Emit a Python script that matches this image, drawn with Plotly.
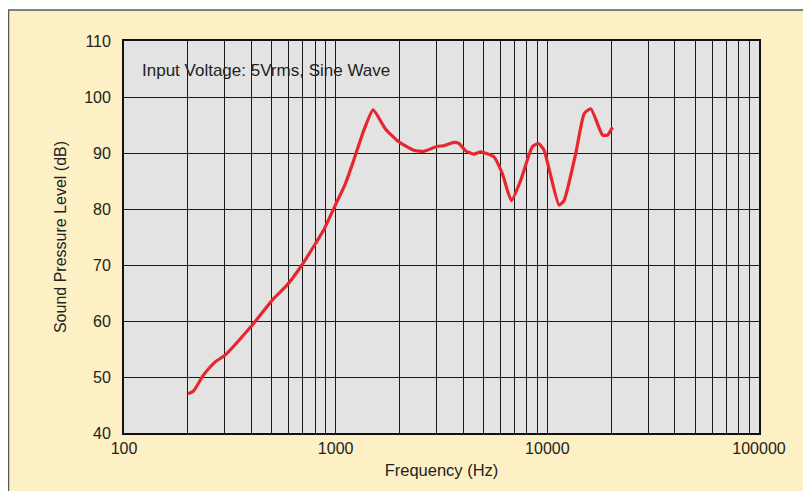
import plotly.graph_objects as go

# Frequency response data
freq_hz = [201, 213, 237, 270, 300, 402, 509, 589, 693, 802, 877, 997, 1111, 1217,
           1357, 1503, 1718, 1987, 2339, 2610, 3020, 3245, 3616, 3821, 4110, 4500,
           4842, 5596, 6131, 6761, 7484, 8496, 9076, 9650, 11360, 11995, 13620,
           14920, 16040, 18230, 19240, 20320]
spl_db = [47.0, 47.5, 50.3, 52.7, 53.9, 59.2, 64.0, 66.4, 70.0, 73.8, 76.2, 80.7,
          84.5, 88.7, 94.0, 97.7, 94.3, 92.0, 90.5, 90.3, 91.2, 91.3, 91.9, 91.7,
          90.4, 89.8, 90.2, 89.3, 86.3, 81.5, 85.1, 91.1, 91.7, 90.5, 80.7, 81.5,
          89.9, 97.0, 97.9, 93.2, 93.2, 94.6]

x_decades = [100, 1000, 10000, 100000]
x_decade_labels = ["100", "1000", "10000", "100000"]
y_ticks = [40, 50, 60, 70, 80, 90, 100, 110]
annotation_text = "Input Voltage: 5Vrms, Sine Wave"

# grid positions at every 1..9 multiple of each decade
x_grid = []
x_grid_text = []
for i, d in enumerate(x_decades[:-1]):
    for m in range(1, 10):
        x_grid.append(d * m)
        x_grid_text.append(x_decade_labels[i] if m == 1 else "")
x_grid.append(x_decades[-1])
x_grid_text.append(x_decade_labels[-1])

FONT = "Liberation Sans, Arial, sans-serif"
TXT = "#222222"

fig = go.Figure()
fig.add_trace(go.Scatter(
    x=freq_hz, y=spl_db, mode="lines",
    line=dict(color="#E8262E", width=3.2, shape="spline", smoothing=0.5),
    showlegend=False, hoverinfo="skip",
))

# page body has an 8px margin; figure coordinates are offset by it
OFF = 8
W, H = 811 - OFF, 491 - OFF
ML, MT = 124 - OFF, 41 - OFF
pw, ph = 635, 392
MR = W - ML - pw
MB = H - MT - ph

def px_x(p):  # window pixel -> paper x
    return (p - OFF - ML) / pw

def px_y(p):  # window pixel -> paper y
    return (MT + ph - (p - OFF)) / ph

fig.update_layout(
    width=W, height=H,
    margin=dict(l=ML, r=MR, t=MT, b=MB, pad=0),
    paper_bgcolor="white",
    plot_bgcolor="#E3E3E3",
    font=dict(family=FONT, color=TXT, size=16),
    shapes=[
        dict(type="rect", xref="paper", yref="paper", layer="below",
             x0=px_x(8.5), x1=px_x(830), y0=px_y(520), y1=px_y(10),
             fillcolor="#FEF0C5", line=dict(color="#5a5a5a", width=1.5)),
        dict(type="rect", xref="paper", yref="paper", layer="below",
             x0=0, x1=1, y0=0, y1=1,
             fillcolor="#E3E3E3", line=dict(width=0)),
    ],
    annotations=[
        dict(text=annotation_text, xref="paper", yref="paper",
             x=px_x(140), y=px_y(70), xanchor="left", yanchor="middle",
             showarrow=False, font=dict(size=17, color=TXT, family=FONT)),
    ],
)

fig.update_xaxes(
    type="log", range=[2, 5],
    tickmode="array", tickvals=x_grid, ticktext=x_grid_text,
    showgrid=True, gridcolor="#1a1a1a", gridwidth=1.3,
    showline=True, linecolor="#111111", linewidth=1.8, mirror=True,
    ticks="", tickfont=dict(size=16, color=TXT),
    title=dict(text="Frequency (Hz)", font=dict(size=16.5, color=TXT), standoff=8),
    zeroline=False,
)
fig.update_yaxes(
    range=[40, 110], tickmode="array", tickvals=y_ticks,
    showgrid=True, gridcolor="#1a1a1a", gridwidth=1.3,
    showline=True, linecolor="#111111", linewidth=1.8, mirror=True,
    ticks="", tickfont=dict(size=16, color=TXT), ticklabelstandoff=8,
    title=dict(text="Sound Pressure Level (dB)", font=dict(size=16, color=TXT), standoff=14),
    zeroline=False,
)

fig.write_html("out.html")
